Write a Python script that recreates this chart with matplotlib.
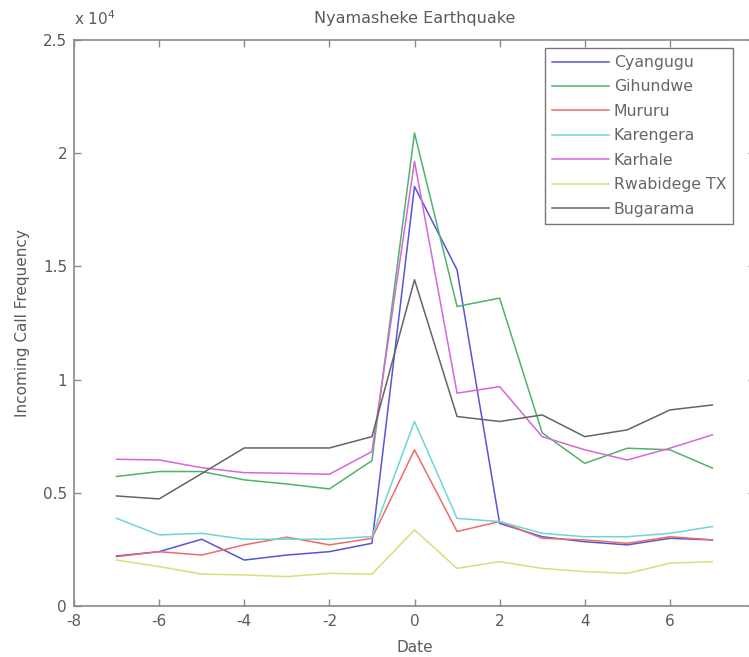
import matplotlib
matplotlib.use("Agg")
import matplotlib.pyplot as plt
from matplotlib.ticker import FuncFormatter

days = [-7, -6, -5, -4, -3, -2, -1, 0, 1, 2, 3, 4, 5, 6, 7]

cyangugu = [2210, 2400, 2950, 2030, 2250, 2400, 2770, 18530, 14850, 3650, 3060, 2840, 2700, 2990, 2920]
gihundwe = [5720, 5940, 5940, 5570, 5390, 5170, 6420, 20890, 13230, 13600, 7650, 6300, 6970, 6900, 6090]
mururu = [2180, 2400, 2250, 2700, 3040, 2700, 2990, 6900, 3290, 3730, 2990, 2920, 2770, 3060, 2920]
karengera = [3870, 3140, 3210, 2950, 2950, 2950, 3070, 8150, 3870, 3730, 3210, 3060, 3060, 3210, 3510]
karhale = [6480, 6450, 6110, 5890, 5860, 5820, 6820, 19640, 9400, 9690, 7480, 6900, 6450, 6970, 7560]
rwabidege = [2030, 1740, 1410, 1370, 1300, 1440, 1410, 3360, 1660, 1960, 1660, 1520, 1440, 1890, 1960]
bugarama = [4860, 4730, 5850, 6980, 6980, 6980, 7480, 14410, 8370, 8150, 8440, 7480, 7780, 8660, 8880]

series = [
    ("Cyangugu", cyangugu, "#5555d8"),
    ("Gihundwe", gihundwe, "#4fb36a"),
    ("Mururu", mururu, "#f06a6a"),
    ("Karengera", karengera, "#6cd6d6"),
    ("Karhale", karhale, "#d866d8"),
    ("Rwabidege TX", rwabidege, "#dcdc7a"),
    ("Bugarama", bugarama, "#646464"),
]

plt.rcParams["font.family"] = ["DejaVu Sans"]
plt.rcParams["axes.unicode_minus"] = False
txt = "#5a5a5a"

fig = plt.figure(figsize=(7.49, 6.57), dpi=100)
ax = fig.add_axes([74 / 749, 51 / 657, 681 / 749, 566 / 657])

for name, vals, col in series:
    ax.plot(days, vals, color=col, linewidth=1.1, label=name)

ax.set_xlim(-8, 8)
ax.set_ylim(0, 25000)
ax.set_xticks([-8, -6, -4, -2, 0, 2, 4, 6, 8])
ax.set_yticks([0, 5000, 10000, 15000, 20000, 25000])
ax.yaxis.set_major_formatter(FuncFormatter(lambda v, p: "%g" % (v / 1e4)))

for sp in ax.spines.values():
    sp.set_color("#8a8a8a")
    sp.set_linewidth(1.2)
ax.tick_params(direction="in", top=True, right=True, length=5, width=1,
               colors="#8a8a8a", labelcolor=txt, labelsize=11)
ax.tick_params(axis="y", pad=5)
ax.tick_params(axis="x", pad=6)

ax.text(0.0, 1.022, "x 10$^4$", transform=ax.transAxes, fontsize=11,
        color=txt, ha="left", va="bottom")
ax.set_title("Nyamasheke Earthquake", fontsize=11.5, color=txt, pad=12)
ax.set_xlabel("Date", fontsize=11, color=txt, labelpad=8)
ax.set_ylabel("Incoming Call Frequency", fontsize=11, color=txt, labelpad=9)

leg = ax.legend(loc="upper left", bbox_to_anchor=(545 / 749, 1 - 48 / 657),
                bbox_transform=fig.transFigure, fontsize=11.3, frameon=True,
                fancybox=False, edgecolor="#555555", labelcolor="#666666",
                handlelength=3.6, labelspacing=0.6, borderpad=0.45,
                handletextpad=0.33, borderaxespad=0)
leg.get_frame().set_linewidth(1.0)

fig.savefig("out.png", dpi=100, facecolor="white")
